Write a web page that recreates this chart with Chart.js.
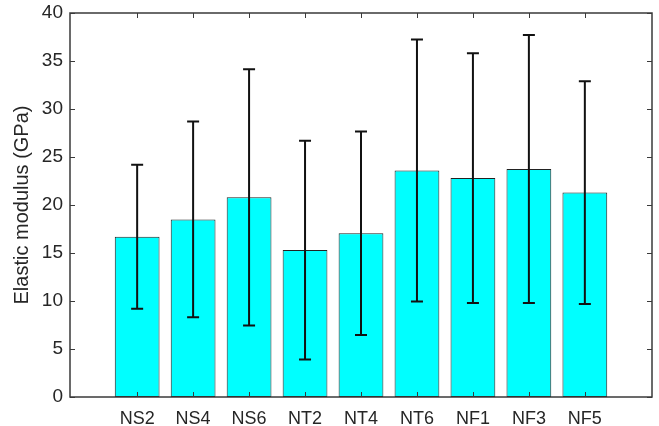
<!DOCTYPE html>
<html>
<head>
<meta charset="utf-8">
<script src="https://cdn.jsdelivr.net/npm/chart.js@4/dist/chart.umd.min.js"></script>
<style>
  html, body { margin: 0; padding: 0; background: #fff; }
  #wrap { width: 659px; height: 426px; }
</style>
</head>
<body>
<div id="wrap"><canvas id="modulusChart"></canvas></div>
<script>
const samples = ['NS2', 'NS4', 'NS6', 'NT2', 'NT4', 'NT6', 'NF1', 'NF3', 'NF5'];
const meanModulus = [16.7, 18.5, 20.8, 15.3, 17.05, 23.6, 22.8, 23.75, 21.3];
const sdModulus = [7.5, 10.2, 13.35, 11.4, 10.6, 13.65, 13.0, 13.95, 11.6];
const yTicks = [0, 5, 10, 15, 20, 25, 30, 35, 40];

const axisColor = '#3a3a3a';
const textColor = '#262626';
const family = '"Liberation Sans", Arial, sans-serif';

// box around the plot with inward tick marks on all four sides
const boxAxes = {
  id: 'boxAxes',
  afterDraw(chart) {
    const { ctx, chartArea: a, scales: { x, y } } = chart;
    const len = 5;
    ctx.save();
    ctx.strokeStyle = axisColor;
    ctx.lineWidth = 1;
    ctx.beginPath();
    samples.forEach((s, i) => {
      const px = Math.round(x.getPixelForValue(i + 1)) + 0.5;
      ctx.moveTo(px, a.bottom); ctx.lineTo(px, a.bottom - len);
      ctx.moveTo(px, a.top); ctx.lineTo(px, a.top + len);
    });
    yTicks.forEach(v => {
      const py = Math.round(y.getPixelForValue(v)) + 0.5;
      ctx.moveTo(a.left, py); ctx.lineTo(a.left + len, py);
      ctx.moveTo(a.right, py); ctx.lineTo(a.right - len, py);
    });
    ctx.stroke();
    ctx.lineWidth = 1.5;
    ctx.strokeRect(a.left, a.top, a.right - a.left, a.bottom - a.top);
    ctx.restore();
  }
};

// mean ± sd whiskers with caps
const errorBars = {
  id: 'errorBars',
  afterDatasetsDraw(chart) {
    const { ctx, scales: { y } } = chart;
    const bars = chart.getDatasetMeta(0).data;
    ctx.save();
    ctx.strokeStyle = '#111';
    ctx.lineWidth = 2;
    bars.forEach((bar, i) => {
      const top = y.getPixelForValue(meanModulus[i] + sdModulus[i]);
      const bottom = y.getPixelForValue(meanModulus[i] - sdModulus[i]);
      const cap = 6;
      ctx.beginPath();
      ctx.moveTo(bar.x, top); ctx.lineTo(bar.x, bottom);
      ctx.moveTo(bar.x - cap, top); ctx.lineTo(bar.x + cap, top);
      ctx.moveTo(bar.x - cap, bottom); ctx.lineTo(bar.x + cap, bottom);
      ctx.stroke();
    });
    ctx.restore();
  }
};

new Chart(document.getElementById('modulusChart'), {
  type: 'bar',
  data: {
    datasets: [{
      data: meanModulus.map((m, i) => ({ x: i + 1, y: m })),
      backgroundColor: '#00ffff',
      borderColor: '#222',
      borderWidth: 1,
      borderSkipped: false,
      barPercentage: 0.8,
      categoryPercentage: 1.0
    }]
  },
  options: {
    responsive: true,
    maintainAspectRatio: false,
    animation: false,
    layout: { padding: { top: 13, right: 7, left: 0, bottom: 0 } },
    plugins: { legend: { display: false }, tooltip: { enabled: false } },
    scales: {
      x: {
        type: 'linear',
        offset: false,
        min: -0.2,
        max: 10.2,
        afterBuildTicks: scale => { scale.ticks = samples.map((s, i) => ({ value: i + 1 })); },
        afterFit: scale => { scale.height = 29; },
        ticks: {
          autoSkip: false,
          maxRotation: 0,
          padding: 11,
          color: textColor,
          font: { family, size: 18 },
          callback: v => samples[v - 1]
        },
        grid: { display: false, drawTicks: false },
        border: { display: false }
      },
      y: {
        min: 0,
        max: 40,
        afterFit: scale => {
          scale.width = 70;
          scale.paddingTop = 0;
          scale.paddingBottom = 0;
        },
        ticks: { stepSize: 5, padding: 7, color: textColor, font: { family, size: 19 } },
        grid: { display: false, drawTicks: false },
        border: { display: false },
        title: {
          display: true,
          text: 'Elastic modulus (GPa)',
          color: textColor,
          font: { family, size: 20 },
          padding: { top: 10, bottom: 0 }
        }
      }
    }
  },
  plugins: [errorBars, boxAxes]
});
</script>
</body>
</html>
